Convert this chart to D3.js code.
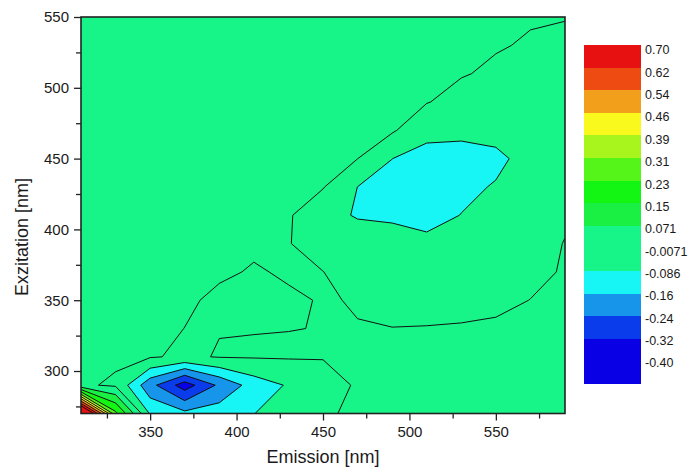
<!DOCTYPE html>
<html>
<head>
<meta charset="utf-8">
<script src="https://cdn.jsdelivr.net/npm/d3@7"></script>
<style>
  body { margin: 0; background: #fff; }
  text { font-family: "Liberation Sans", Arial, sans-serif; fill: #1a1a1a; }
</style>
</head>
<body>
<svg id="chart" width="691" height="468"></svg>
<script>
// grid of the measurement (nm)
const emission = [310, 330, 350, 370, 390, 410, 430, 450, 470, 490, 510, 530, 550, 570, 590];
const excitation = [270, 290, 310, 330, 350, 370, 390, 410, 430, 450, 470, 490, 510, 530, 550];

// one row of intensity differences per excitation wavelength (columns follow emission)
const ex270 = [0.96, 0.25, -0.095, -0.14, -0.121, -0.088, -0.03, -0.02, 0.01, 0.01, 0.012, 0.01, 0.01, 0.012, 0.01];
const ex290 = [0.004, -0.018, -0.213, -0.36, -0.224, -0.126, -0.079, -0.04, 0.001, 0.005, 0.008, 0.01, 0.01, 0.012, 0.01];
const ex310 = [0.02, 0.005, -0.0015, -0.0175, -0.0036, -0.002, -0.0013, -0.0034, 0.0, 0.004, 0.006, 0.008, 0.01, 0.01, 0.01];
const ex330 = [0.02, 0.015, 0.006, -0.0075, -0.009, -0.0085, -0.0078, -0.0064, -0.0062, -0.0059, -0.0046, -0.0014, 0.0015, 0.005, 0.005];
const ex350 = [0.02, 0.02, 0.01, 0.0, -0.016, -0.02, -0.012, -0.005, -0.0088, -0.03, -0.03, -0.03, -0.02, -0.0064, 0.0];
const ex370 = [0.02, 0.02, 0.015, 0.008, -0.001, -0.0103, -0.003, -0.0065, -0.03, -0.035, -0.04, -0.04, -0.03, -0.02, -0.0028];
const ex390 = [0.02, 0.02, 0.02, 0.015, 0.005, -0.001, -0.005, -0.03, -0.044, -0.04, -0.05, -0.05, -0.04, -0.02, -0.006];
const ex410 = [0.02, 0.02, 0.02, 0.02, 0.015, 0.01, 0.0005, -0.06, -0.0925, -0.1034, -0.138, -0.083, -0.05, -0.03, -0.0115];
const ex430 = [0.02, 0.02, 0.02, 0.02, 0.02, 0.015, 0.01, -0.003, -0.0865, -0.11, -0.14, -0.12, -0.075, -0.04, -0.02];
const ex450 = [0.02, 0.02, 0.02, 0.02, 0.02, 0.02, 0.015, 0.005, -0.0065, -0.0855, -0.114, -0.13, -0.12, -0.032, -0.02];
const ex470 = [0.02, 0.02, 0.02, 0.02, 0.02, 0.02, 0.02, 0.015, 0.01, 0.0017, -0.063, -0.059, -0.035, -0.03, -0.02];
const ex490 = [0.02, 0.02, 0.02, 0.02, 0.02, 0.02, 0.02, 0.02, 0.015, 0.005, -0.0041, -0.03, -0.03, -0.03, -0.025];
const ex510 = [0.02, 0.02, 0.02, 0.02, 0.02, 0.02, 0.02, 0.02, 0.02, 0.015, 0.01, -0.003, -0.0167, -0.03, -0.03];
const ex530 = [0.02, 0.02, 0.02, 0.02, 0.02, 0.02, 0.02, 0.02, 0.02, 0.02, 0.015, 0.01, -0.003, -0.012, -0.019];
const ex550 = [0.02, 0.02, 0.02, 0.02, 0.02, 0.02, 0.02, 0.02, 0.02, 0.02, 0.015, 0.012, 0.01, -0.003, -0.005];

// contour levels and the fill used above each of them
const levels = [-0.40, -0.32, -0.24, -0.16, -0.086, -0.0071, 0.071, 0.15, 0.23, 0.31, 0.39, 0.46, 0.54, 0.62, 0.70];
const levelColors = ["#0a00e6", "#0b3ceb", "#1795ea", "#17f5f5", "#17f588", "#17f588", "#19f043",
  "#13f513", "#55f51a", "#a8f51e", "#f9f91e", "#f2a01c", "#ee4b13", "#e81111", "#e81111"];
const belowColor = "#0a00e6";

// colour scale on the right, top to bottom
const scaleLabels = ["0.70", "0.62", "0.54", "0.46", "0.39", "0.31", "0.23", "0.15", "0.071",
  "-0.0071", "-0.086", "-0.16", "-0.24", "-0.32", "-0.40"];
const scaleColors = ["#e81111", "#ee4b13", "#f2a01c", "#f9f91e", "#a8f51e", "#55f51a", "#13f513",
  "#19f043", "#17f588", "#17f588", "#17f5f5", "#1795ea", "#0b3ceb", "#0a00e6", "#0a00e6"];

const xTicks = [350, 400, 450, 500, 550];
const xMinor = [325, 375, 425, 475, 525, 575];
const yTicks = [300, 350, 400, 450, 500, 550];
const yMinor = [275, 325, 375, 425, 475, 525];

const rows = [ex270, ex290, ex310, ex330, ex350, ex370, ex390, ex410, ex430, ex450, ex470, ex490, ex510, ex530, ex550];
const nx = emission.length, ny = excitation.length;
const values = rows.flat();

const plot = { left: 81, right: 565, top: 17, bottom: 413.5 };

const svg = d3.select("#chart");

const x = d3.scaleLinear().domain([310, 590]).range([plot.left, plot.right]);
const y = d3.scaleLinear().domain([270, 550]).range([plot.bottom, plot.top]);

const dxStep = emission[1] - emission[0];
const dyStep = excitation[1] - excitation[0];

// contour grid coordinates -> data -> pixels (sample i sits at i + 0.5)
const projection = d3.geoTransform({
  point: function (cx, cy) {
    this.stream.point(
      x(emission[0] + (cx - 0.5) * dxStep),
      y(excitation[0] + (cy - 0.5) * dyStep)
    );
  }
});
const path = d3.geoPath(projection);

const contours = d3.contours().size([nx, ny]).thresholds(levels)(values);

svg.append("clipPath")
  .attr("id", "plot-clip")
  .append("rect")
  .attr("x", plot.left)
  .attr("y", plot.top)
  .attr("width", plot.right - plot.left)
  .attr("height", plot.bottom - plot.top);

const g = svg.append("g").attr("clip-path", "url(#plot-clip)");

g.append("rect")
  .attr("x", plot.left)
  .attr("y", plot.top)
  .attr("width", plot.right - plot.left)
  .attr("height", plot.bottom - plot.top)
  .attr("fill", belowColor);

g.selectAll("path.fill")
  .data(contours)
  .join("path")
  .attr("class", "fill")
  .attr("d", path)
  .attr("fill", (d, i) => levelColors[i])
  .attr("stroke", "none");

g.selectAll("path.line")
  .data(contours)
  .join("path")
  .attr("class", "line")
  .attr("d", path)
  .attr("fill", "none")
  .attr("stroke", "#111")
  .attr("stroke-width", 1)
  .attr("stroke-linejoin", "round");

// axes
svg.append("g")
  .attr("transform", `translate(0,${plot.bottom})`)
  .call(d3.axisBottom(x).tickValues(xTicks).tickSize(7).tickSizeOuter(0).tickPadding(6));
svg.append("g")
  .attr("transform", `translate(0,${plot.bottom})`)
  .call(d3.axisBottom(x).tickValues(xMinor).tickSize(5).tickSizeOuter(0).tickFormat(""));

svg.append("g")
  .attr("transform", `translate(${plot.left},0)`)
  .call(d3.axisLeft(y).tickValues(yTicks).tickSize(7).tickSizeOuter(0).tickPadding(5));
svg.append("g")
  .attr("transform", `translate(${plot.left},0)`)
  .call(d3.axisLeft(y).tickValues(yMinor).tickSize(5).tickSizeOuter(0).tickFormat(""));

svg.selectAll(".domain").remove();
svg.selectAll(".tick line").attr("stroke", "#222").attr("stroke-width", 1.3);
svg.selectAll(".tick text")
  .attr("font-size", 15)
  .attr("font-family", "Liberation Sans, Arial, sans-serif")
  .attr("fill", "#1a1a1a");

// frame
svg.append("rect")
  .attr("x", plot.left)
  .attr("y", plot.top)
  .attr("width", plot.right - plot.left)
  .attr("height", plot.bottom - plot.top)
  .attr("fill", "none")
  .attr("stroke", "#222")
  .attr("stroke-width", 1.6);

// axis titles
svg.append("text")
  .attr("x", (plot.left + plot.right) / 2)
  .attr("y", 463)
  .attr("text-anchor", "middle")
  .attr("font-size", 18)
  .text("Emission [nm]");

svg.append("text")
  .attr("transform", "translate(28,237) rotate(-90)")
  .attr("text-anchor", "middle")
  .attr("font-size", 18)
  .text("Exzitation [nm]");

// colour scale
const bar = { x: 584, y: 45, w: 57, h: 339 };
const band = bar.h / scaleColors.length;

svg.append("g")
  .attr("shape-rendering", "crispEdges")
  .selectAll("rect")
  .data(scaleColors)
  .join("rect")
  .attr("x", bar.x)
  .attr("y", (d, i) => Math.round(bar.y + i * band))
  .attr("width", bar.w)
  .attr("height", (d, i) => Math.round(bar.y + (i + 1) * band) - Math.round(bar.y + i * band))
  .attr("fill", (d) => d);

svg.append("g")
  .selectAll("text")
  .data(scaleLabels)
  .join("text")
  .attr("x", bar.x + bar.w + 4)
  .attr("y", (d, i) => 50 + i * 22.36)
  .attr("dy", "0.35em")
  .attr("font-size", 12.5)
  .text((d) => d);
</script>
</body>
</html>
